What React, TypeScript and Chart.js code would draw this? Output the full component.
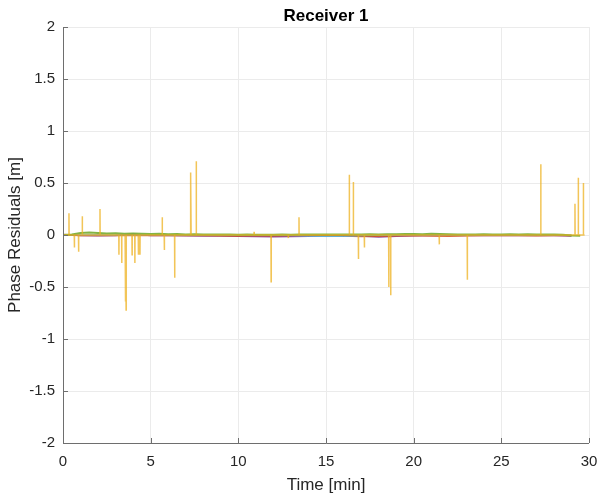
import React, { useEffect, useRef } from "react";
import { Chart, registerables } from "chart.js";

Chart.register(...registerables);

// Spike series (orange): time [min] and residual [m]
const spikeTimes = [
  0.34, 0.65, 0.89, 1.1, 2.11, 3.19, 3.35, 3.55, 3.6, 3.94, 4.1, 4.3, 4.39,
  5.66, 5.78, 6.37, 7.26, 7.3, 7.6, 10.9, 11.87, 12.85, 13.46, 16.33, 16.56,
  16.85, 17.19, 18.58, 18.69, 21.46, 23.06, 27.25, 29.2, 29.39, 29.68,
];
const spikeValues = [
  0.21, -0.12, -0.16, 0.18, 0.25, -0.19, -0.27, -0.64, -0.72, -0.19, -0.27,
  -0.19, -0.19, 0.17, -0.145, -0.41, 0.6, 0.57, 0.71, 0.03, -0.45, -0.03, 0.17,
  0.58, 0.51, -0.23, -0.12, -0.5, -0.58, -0.09, -0.43, 0.68, 0.3, 0.55, 0.5,
];
const orangeStart = 0.0;
const orangeEnd = 29.75;

// Near-zero series sampled every 0.5 min
const greenValues = [
  0.0, 0.005, 0.02, 0.025, 0.02, 0.015, 0.018, 0.012, 0.015, 0.012, 0.01,
  0.012, 0.008, 0.01, 0.006, 0.008, 0.005, 0.006, 0.004, 0.005, 0.003, 0.004,
  0.002, 0.003, 0.002, 0.004, 0.003, 0.005, 0.004, 0.006, 0.005, 0.006, 0.004,
  0.005, 0.006, 0.008, 0.006, 0.007, 0.008, 0.009, 0.01, 0.008, 0.012, 0.01,
  0.008, 0.006, 0.004, 0.006, 0.008, 0.006, 0.005, 0.007, 0.006, 0.008, 0.006,
  0.005, 0.004, 0.003, -0.005, -0.008,
];
// sampled every 1 min
const purpleValues = [
  0.005, -0.005, -0.008, -0.004, 0.006, -0.006, -0.005, -0.008, -0.01, -0.01,
  -0.012, -0.015, -0.018, -0.015, -0.012, -0.01, -0.008, -0.01, -0.02, -0.012,
  -0.008, -0.006, -0.005, -0.004, -0.006, -0.005, -0.004, -0.003, -0.006, -0.01,
];
const redValues = [
  0.0, -0.004, -0.002, -0.006, -0.003, -0.005, -0.002, -0.004, -0.006, -0.008,
  -0.01, -0.006, -0.008, -0.005, -0.004, -0.006, -0.01, -0.015, -0.012,
  -0.008, -0.006, -0.01, -0.012, -0.008, -0.006, -0.004, -0.006, -0.008,
  -0.005, -0.004,
];
const blueValues = [
  0.002, -0.002, 0.0, -0.003, 0.001, -0.002, 0.0, -0.004, -0.003, -0.002,
  -0.004, -0.005, -0.006, -0.004, -0.003, -0.002, -0.004, -0.003, -0.002,
  -0.003, -0.002, -0.001, -0.002, -0.003, -0.002, -0.001, -0.002, -0.003,
  -0.002, -0.003,
];
const cyanValues = [
  0.0, 0.001, 0.0, -0.001, 0.0, 0.001, 0.0, -0.001, 0.0, 0.0, -0.002, -0.003,
  -0.004, -0.006, -0.012, -0.015, -0.014, -0.008, -0.004, -0.002, 0.0, -0.001,
  0.0, -0.001, 0.0, 0.0, -0.001, 0.0, 0.0, -0.001,
];

const xTicks = [0, 5, 10, 15, 20, 25, 30];
const yTicks = [-2, -1.5, -1, -0.5, 0, 0.5, 1, 1.5, 2];

function seriesPoints(values: number[], step: number) {
  return values.map((v, i) => ({ x: i * step, y: v }));
}

function spikePoints() {
  const pts: { x: number; y: number }[] = [{ x: orangeStart, y: 0 }];
  const dt = 0.008;
  spikeTimes.forEach((t, i) => {
    pts.push({ x: t - dt, y: 0 });
    pts.push({ x: t, y: spikeValues[i] });
    pts.push({ x: t + dt, y: 0 });
  });
  pts.push({ x: orangeEnd, y: 0 });
  return pts;
}

const inwardTicks = {
  id: "inwardTicks",
  afterDatasetsDraw(chart: any) {
    const { ctx, chartArea, scales } = chart;
    ctx.save();
    ctx.strokeStyle = "#6e6e6e";
    ctx.lineWidth = 1;
    ctx.beginPath();
    xTicks.forEach((t) => {
      const px = Math.round(scales.x.getPixelForValue(t)) + 0.5;
      ctx.moveTo(px, chartArea.bottom);
      ctx.lineTo(px, chartArea.bottom - 5);
    });
    yTicks.forEach((t) => {
      const py = Math.round(scales.y.getPixelForValue(t)) + 0.5;
      ctx.moveTo(chartArea.left, py);
      ctx.lineTo(chartArea.left + 5, py);
    });
    ctx.stroke();
    // axis lines on top of data
    ctx.beginPath();
    ctx.moveTo(chartArea.left + 0.5, chartArea.top);
    ctx.lineTo(chartArea.left + 0.5, chartArea.bottom + 0.5);
    ctx.lineTo(chartArea.right, chartArea.bottom + 0.5);
    ctx.stroke();
    ctx.restore();
  },
};

export default function App() {
  const ref = useRef<HTMLCanvasElement | null>(null);
  useEffect(() => {
    document.body.style.margin = "0";
    const canvas = ref.current;
    if (!canvas) return;
    const font = "'Liberation Sans', Arial, Helvetica, sans-serif";
    const chart = new Chart(canvas, {
      type: "line",
      data: {
        datasets: [
          {
            data: spikePoints(),
            borderColor: "rgba(237,177,32,0.75)",
            borderWidth: 1.5,
            pointRadius: 0,
            tension: 0,
          },
          {
            data: seriesPoints(greenValues, 0.5),
            borderColor: "rgba(119,172,48,0.9)",
            borderWidth: 2,
            pointRadius: 0,
          },
          {
            data: seriesPoints(cyanValues, 1),
            borderColor: "rgba(77,190,238,0.8)",
            borderWidth: 1,
            pointRadius: 0,
          },
          {
            data: seriesPoints(redValues, 1),
            borderColor: "rgba(217,83,25,0.8)",
            borderWidth: 1.5,
            pointRadius: 0,
          },
          {
            data: seriesPoints(purpleValues, 1),
            borderColor: "rgba(126,47,142,0.85)",
            borderWidth: 1.5,
            pointRadius: 0,
          },
          {
            data: seriesPoints(blueValues, 1),
            borderColor: "rgba(0,114,189,0.8)",
            borderWidth: 1,
            pointRadius: 0,
          },
        ],
      },
      options: {
        animation: false,
        responsive: false,
        layout: { padding: { top: 0, right: 12, left: 0, bottom: 0 } },
        plugins: {
          legend: { display: false },
          tooltip: { enabled: false },
          title: {
            display: true,
            text: "Receiver 1",
            fullSize: false,
            color: "#000000",
            font: { family: font, size: 17, weight: "bold" },
            padding: { top: 6, bottom: 0.6 },
          },
        },
        scales: {
          x: {
            type: "linear",
            min: 0,
            max: 30,
            afterBuildTicks: (axis: any) => {
              axis.ticks = xTicks.map((v) => ({ value: v }));
            },
            afterFit: (axis: any) => {
              axis.height = 53;
              axis.paddingLeft = 0;
              axis.paddingRight = 0;
            },
            ticks: {
              color: "#262626",
              font: { family: font, size: 15 },
              padding: 10,
              maxRotation: 0,
              callback: (v: any) => String(v),
            },
            grid: { color: "#ebebeb", drawTicks: false, lineWidth: 1 },
            border: { display: false },
            title: {
              display: true,
              text: "Time [min]",
              color: "#262626",
              font: { family: font, size: 17 },
              padding: { top: 0, bottom: 0 },
            },
          },
          y: {
            type: "linear",
            min: -2,
            max: 2,
            afterBuildTicks: (axis: any) => {
              axis.ticks = yTicks.map((v) => ({ value: v }));
            },
            afterFit: (axis: any) => {
              axis.width = 63;
              axis.paddingTop = 0;
              axis.paddingBottom = 0;
            },
            ticks: {
              color: "#262626",
              font: { family: font, size: 15 },
              padding: 8,
              callback: (v: any) => String(v),
            },
            grid: { color: "#ebebeb", drawTicks: false, lineWidth: 1 },
            border: { display: false },
            title: {
              display: true,
              text: "Phase Residuals [m]",
              color: "#262626",
              font: { family: font, size: 17 },
              padding: { top: 5, bottom: 0 },
            },
          },
        },
      },
      plugins: [inwardTicks],
    } as any);
    return () => chart.destroy();
  }, []);
  return (
    <div style={{ width: 601, height: 496 }}>
      <canvas ref={ref} width={601} height={496} style={{ display: "block" }} />
    </div>
  );
}
